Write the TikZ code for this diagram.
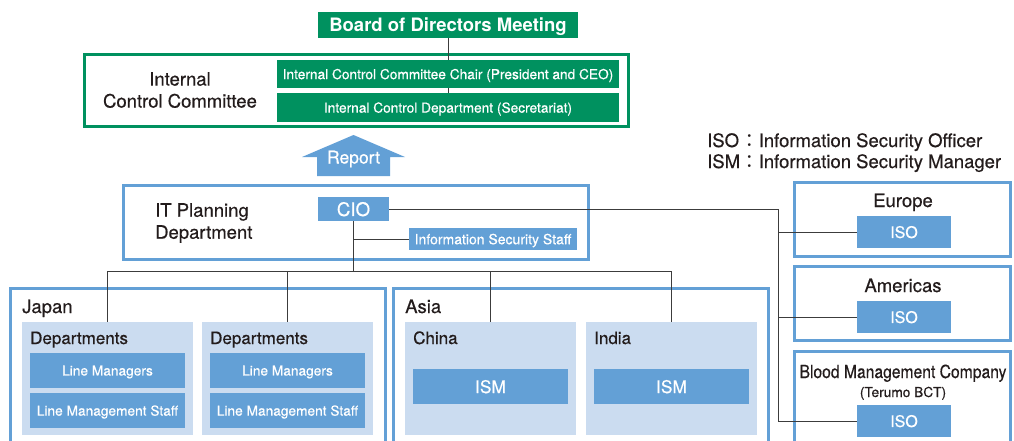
\documentclass[tikz,border=0pt]{standalone}
\usepackage{fontspec}
\setmainfont{TeX Gyre Heros}[FakeBold=0.5,BoldFeatures={FakeBold=0}]
\newfontfamily\cjk{Noto Sans CJK JP}
\newfontfamily\narrowfont[FakeStretch=0.87,FakeBold=0.5]{TeX Gyre Heros}
\usetikzlibrary{shapes}
\definecolor{tgreen}{RGB}{0,145,95}
\definecolor{tblue}{RGB}{99,160,214}
\definecolor{tpale}{RGB}{203,220,240}
\definecolor{tink}{RGB}{35,28,28}
\definecolor{tline}{RGB}{60,60,60}
\tikzstyle{big}=[font=\fontsize{18.5}{22}\selectfont]
\tikzstyle{mid}=[font=\fontsize{17}{20}\selectfont]
\tikzstyle{small}=[font=\fontsize{13.7}{16}\selectfont]
\tikzstyle{greenbox}=[fill=tgreen,text=white,inner sep=0pt,outer sep=0pt,text depth=0pt]
\tikzstyle{bluebox}=[fill=tblue,text=white,inner sep=0pt,outer sep=0pt,text depth=0pt]
\tikzstyle{palebox}=[fill=tpale,inner sep=0pt,outer sep=0pt]
\tikzstyle{frame}=[draw=tblue,line width=3pt,inner sep=0pt,outer sep=0pt]
\tikzstyle{lbl}=[text=tink,inner sep=0pt]
\tikzstyle{link}=[draw=tline,line width=1pt]

\begin{document}
\begin{tikzpicture}[x=1pt,y=-1pt]
\useasboundingbox (0,0) rectangle (1014,441);
\node[frame,draw=tgreen,minimum width=544pt,minimum height=72pt] (iccframe) at (356,91) {};
\node[frame,minimum width=465pt,minimum height=74pt] (itframe) at (355.5,222) {};
\node[frame,minimum width=216pt,minimum height=74pt] (euframe) at (902,219) {};
\node[frame,minimum width=216pt,minimum height=74pt] (amframe) at (902,303) {};
\node[frame,minimum width=216pt,minimum height=109pt] (bmframe) at (902,405.5) {};
\node[frame,minimum width=375pt,minimum height=172pt] (jpframe) at (197.5,374) {};
\node[frame,minimum width=375pt,minimum height=172pt] (asframe) at (580.5,374) {};

\node[greenbox,font=\fontsize{18.5}{22}\bfseries,minimum width=260pt,minimum height=26pt] (board) at (448,25) {Board of Directors Meeting};
\node[greenbox,small,minimum width=342pt,minimum height=28pt] (chair) at (448,74) {Internal Control Committee Chair (President and CEO)};
\node[greenbox,small,minimum width=342pt,minimum height=29pt] (icd) at (448,107.5) {Internal Control Department (Secretariat)};
\node[lbl,big,align=center] (icclabel) at (180,90) {Internal\\Control Committee};

\fill[tblue] (317,176) -- (317,157) -- (302,157) -- (353.5,135) -- (405,157) -- (390,157) -- (390,176) -- cycle;
\node[lbl,text=white,font=\fontsize{17.5}{20}\selectfont,anchor=base] (report) at (353.5,163.5) {Report};

\node[lbl,big,align=left,anchor=west] (itlabel) at (155,223) {IT Planning\\Department};
\node[bluebox,font=\fontsize{18.7}{22}\selectfont,minimum width=71pt,minimum height=24pt] (cio) at (353.5,209) {CIO};
\node[bluebox,font=\fontsize{14}{16}\selectfont,minimum width=168pt,minimum height=22pt] (staff) at (493,239) {Information Security Staff};

\node[lbl,big,anchor=base west] (isokey) at (707,147) {\makebox[33pt][l]{ISO}{\cjk ：}Information Security Officer};
\node[lbl,big,anchor=base west] (ismkey) at (707,168) {\makebox[33pt][l]{ISM}{\cjk ：}Information Security Manager};

\node[lbl,big,anchor=base] (eulabel) at (903,207) {Europe};
\node[bluebox,font=\fontsize{16}{18}\selectfont,minimum width=94pt,minimum height=32pt] (euiso) at (904,232) {ISO};
\node[lbl,big,anchor=base] (amlabel) at (903,292) {Americas};
\node[bluebox,font=\fontsize{16}{18}\selectfont,minimum width=94pt,minimum height=32pt] (amiso) at (904,317) {ISO};
\node[lbl,font=\fontsize{18}{20}\narrowfont,anchor=base] (bmlabel) at (903,378) {Blood Management Company};
\node[lbl,small,anchor=base] (bmsub) at (903,397) {(Terumo BCT)};
\node[bluebox,font=\fontsize{16}{18}\selectfont,minimum width=94pt,minimum height=32pt] (bmiso) at (904,421) {ISO};

\node[lbl,big,anchor=base west] (jplabel) at (22,313) {Japan};
\node[palebox,minimum width=171pt,minimum height=113pt] (dept1) at (107.5,378.5) {};
\node[palebox,minimum width=171pt,minimum height=113pt] (dept2) at (287.5,378.5) {};
\node[lbl,mid,anchor=base west] (dept1label) at (30,344) {Departments};
\node[lbl,mid,anchor=base west] (dept2label) at (210,344) {Departments};
\node[bluebox,small,minimum width=155pt,minimum height=35pt] (lm1) at (107.5,370.5) {Line Managers};
\node[bluebox,small,minimum width=155pt,minimum height=35pt] (lms1) at (107.5,410.5) {Line Management Staff};
\node[bluebox,small,minimum width=155pt,minimum height=35pt] (lm2) at (287.5,370.5) {Line Managers};
\node[bluebox,small,minimum width=155pt,minimum height=35pt] (lms2) at (287.5,410.5) {Line Management Staff};

\node[lbl,big,anchor=base west] (aslabel) at (405,313) {Asia};
\node[palebox,minimum width=171pt,minimum height=113pt] (china) at (490.5,378.5) {};
\node[palebox,minimum width=171pt,minimum height=113pt] (india) at (671.5,378.5) {};
\node[lbl,mid,anchor=base west] (chinalabel) at (413,344) {China};
\node[lbl,mid,anchor=base west] (indialabel) at (594,344) {India};
\node[bluebox,font=\fontsize{17.4}{20}\selectfont,minimum width=155pt,minimum height=35pt] (chinaism) at (490.5,386.5) {ISM};
\node[bluebox,font=\fontsize{17.4}{20}\selectfont,minimum width=155pt,minimum height=35pt] (indiaism) at (671.5,386.5) {ISM};

\coordinate (hub) at (353.5,271);
\coordinate (trunk) at (778,209);
\draw[link] (board.south) -- (chair.north);
\draw[link] (chair.south) -- (icd.north);
\draw[link] (cio.south) -- (hub);
\draw[link] (cio.south |- staff.west) -- (staff.west);
\draw[link] (dept1.north) -- (dept1.north |- hub) -- (india.north |- hub) -- (india.north);
\draw[link] (dept2.north) -- (dept2.north |- hub);
\draw[link] (china.north) -- (china.north |- hub);
\draw[link] (cio.east) -- (trunk) |- (bmiso.west);
\draw[link] (trunk |- euiso.west) -- (euiso.west);
\draw[link] (trunk |- amiso.west) -- (amiso.west);
\end{tikzpicture}
\end{document}
